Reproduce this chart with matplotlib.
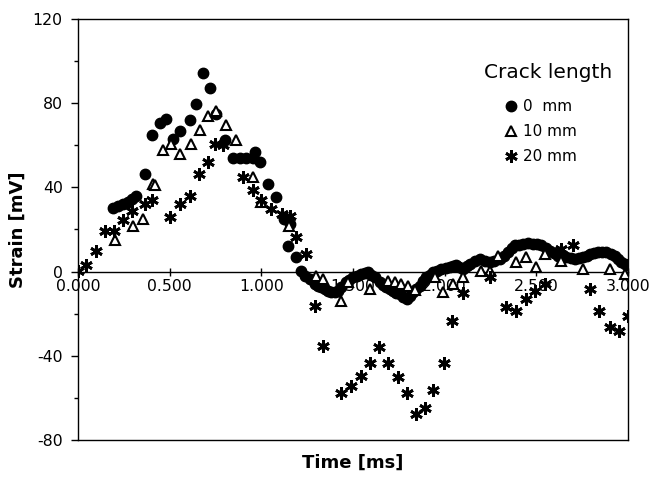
import matplotlib
matplotlib.use("Agg")
import matplotlib.pyplot as plt
from matplotlib.ticker import MultipleLocator

plt.rcParams['font.family'] = ['DejaVu Sans']
plt.rcParams['axes.unicode_minus'] = False

# 0 mm crack length (filled circles)
t0 = [0.191, 0.218, 0.246, 0.273, 0.293, 0.315, 0.364, 0.406, 0.446, 0.482,
      0.518, 0.555, 0.609, 0.646, 0.682, 0.718, 0.755, 0.800, 0.846, 0.882,
      0.918, 0.955, 0.964, 0.995, 1.037, 1.082, 1.122, 1.155, 1.145, 1.188,
      1.219, 1.240, 1.264, 1.291, 1.310, 1.328, 1.345, 1.364, 1.380, 1.400,
      1.420, 1.437, 1.464, 1.480, 1.500, 1.520, 1.546, 1.565, 1.582, 1.600,
      1.619, 1.646, 1.665, 1.682, 1.700, 1.719, 1.735, 1.755, 1.775, 1.792,
      1.810, 1.828, 1.845, 1.864, 1.880, 1.900, 1.920, 1.937, 1.960, 1.982,
      2.005, 2.028, 2.045, 2.064, 2.080, 2.100, 2.120, 2.137, 2.165, 2.191,
      2.220, 2.246, 2.270, 2.300, 2.325, 2.346, 2.365, 2.382, 2.405, 2.428,
      2.455, 2.482, 2.505, 2.528, 2.550, 2.573, 2.595, 2.619, 2.640, 2.664,
      2.690, 2.710, 2.730, 2.755, 2.775, 2.791, 2.815, 2.837, 2.860, 2.882,
      2.905, 2.928, 2.945, 2.964, 2.985, 3.000]
v0 = [30.3, 31.4, 32.2, 33.0, 34.3, 35.7, 46.5, 64.8, 70.6, 72.7,
      63.2, 66.8, 71.9, 79.5, 94.4, 87.0, 75.1, 62.4, 53.8, 53.8,
      53.8, 53.8, 56.8, 52.0, 41.4, 35.4, 25.0, 22.7, 12.0, 6.8,
      0.1, -2.0, -3.5, -5.9, -6.8, -7.5, -8.5, -9.0, -9.5, -9.8,
      -9.0, -7.5, -5.1, -4.0, -2.7, -2.0, -1.1, -0.5, -0.3, -1.5,
      -2.7, -5.1, -6.5, -7.5, -8.3, -9.0, -10.0, -10.6, -12.0, -13.0,
      -11.5, -9.8, -8.2, -6.7, -4.5, -2.7, -1.5, -0.3, 0.5, 1.3,
      1.8, 2.1, 2.5, 2.9, 2.0, 1.4, 2.5, 3.7, 5.0, 6.0,
      5.2, 4.4, 5.0, 6.0, 7.5, 9.2, 11.0, 12.4, 12.8, 13.2,
      13.5, 13.2, 13.0, 12.4, 11.2, 10.0, 8.8, 7.6, 7.2, 6.8,
      6.4, 6.0, 6.4, 6.8, 7.6, 8.4, 9.0, 9.2, 9.2, 9.2,
      8.5, 7.6, 6.0, 4.4, 3.5, 2.9]

# 10 mm crack length (open triangles)
t10 = [0.200, 0.300, 0.355, 0.409, 0.418, 0.464, 0.509, 0.555, 0.618, 0.664,
       0.709, 0.755, 0.806, 0.864, 0.955, 1.000, 1.151, 1.300, 1.337, 1.437,
       1.473, 1.591, 1.691, 1.728, 1.764, 1.800, 1.837, 1.946, 1.991, 2.046,
       2.100, 2.200, 2.246, 2.291, 2.391, 2.446, 2.500, 2.546, 2.637, 2.755,
       2.900, 2.982]
v10 = [14.8, 21.9, 25.1, 41.4, 41.0, 58.0, 60.5, 56.0, 60.5, 67.1,
       73.8, 76.3, 69.5, 62.4, 44.9, 33.0, 21.9, -1.9, -3.5, -13.8,
       -5.1, -8.2, -4.3, -5.1, -5.9, -6.7, -8.7, -2.7, -9.8, -5.9,
       -2.7, 0.5, 0.5, 7.6, 4.4, 6.8, 2.1, 8.4, 5.2, 1.3,
       1.3, -1.1]

# 20 mm crack length (asterisks)
t20 = [0.000, 0.046, 0.100, 0.146, 0.196, 0.246, 0.295, 0.364, 0.404, 0.500,
       0.555, 0.609, 0.660, 0.709, 0.746, 0.791, 0.900, 0.955, 1.000, 1.055,
       1.110, 1.155, 1.191, 1.242, 1.291, 1.337, 1.437, 1.491, 1.546, 1.595,
       1.642, 1.691, 1.746, 1.795, 1.842, 1.891, 1.937, 1.995, 2.042, 2.100,
       2.246, 2.337, 2.388, 2.446, 2.491, 2.546, 2.637, 2.700, 2.791, 2.842,
       2.904, 2.951, 3.000]
v20 = [0.5, 2.9, 10.0, 19.5, 19.5, 24.3, 29.0, 31.9, 34.1, 25.9,
       32.2, 35.7, 46.5, 52.0, 60.8, 60.0, 44.9, 38.6, 33.8, 29.9,
       27.5, 26.2, 16.3, 8.4, -16.2, -35.2, -57.5, -54.3, -49.5, -43.2,
       -36.0, -43.2, -50.3, -57.5, -67.8, -64.6, -56.3, -43.2, -23.7, -10.3,
       -2.7, -17.0, -18.6, -13.0, -9.0, -5.9, 10.8, 12.4, -8.2, -18.6,
       -26.5, -28.1, -21.0]

labels = ['0  mm', '10 mm', '20 mm']
legend_title = 'Crack length'
x_ticks = [0.0, 0.5, 1.0, 1.5, 2.0, 2.5, 3.0]
y_ticks = [-80, -40, 0, 40, 80, 120]

fig = plt.figure(figsize=(6.54, 4.80), dpi=100)
ax = fig.add_axes([78/654, 1-440/480, 550/654, 421/480])

ax.plot(t0, v0, linestyle='none', marker='o', ms=7.5, mfc='black', mec='black',
        label=labels[0], zorder=3)
ax.plot(t10, v10, linestyle='none', marker='^', ms=7, mfc='white', mec='black',
        mew=1.5, label=labels[1], zorder=4)
ax.plot(t20, v20, linestyle='none', marker=(6, 2, 0), ms=9, mec='black',
        mew=2.0, color='black', label=labels[2], zorder=5)

ax.set_xlim(0, 3.0)
ax.set_ylim(-80, 120)

for s in ax.spines.values():
    s.set_linewidth(1.0)

ax.set_yticks(y_ticks)
ax.yaxis.set_minor_locator(MultipleLocator(20))
ax.tick_params(axis='y', which='major', direction='out', length=5, width=1,
               labelsize=11.3, pad=6)
ax.tick_params(axis='y', which='minor', direction='out', length=3, width=1)
ax.set_xticks([])

# x axis drawn along the zero line
sec = ax.secondary_xaxis(80/200)
sec.set_xticks(x_ticks)
sec.set_xticklabels([f'{v:.3f}' for v in x_ticks])
sec.tick_params(direction='inout', length=6, width=1, labelsize=11.3, pad=2)
sec.spines['bottom'].set_linewidth(1.0)

ax.set_xlabel('Time [ms]', fontsize=13, fontweight='bold', labelpad=10)
ax.set_ylabel('Strain [mV]', fontsize=13, fontweight='bold', labelpad=4)

ax.text((548-78)/550, (440-72)/421, legend_title, transform=ax.transAxes,
        ha='center', va='center', fontsize=14.5)
leg = ax.legend(frameon=False, loc='upper left',
                bbox_to_anchor=((505-78)/550, (440-99)/421), fontsize=11,
                numpoints=1, handlelength=0.8, handletextpad=0.4,
                labelspacing=0.65, borderaxespad=0.0, borderpad=0.0)

fig.savefig('out.png', dpi=100)
